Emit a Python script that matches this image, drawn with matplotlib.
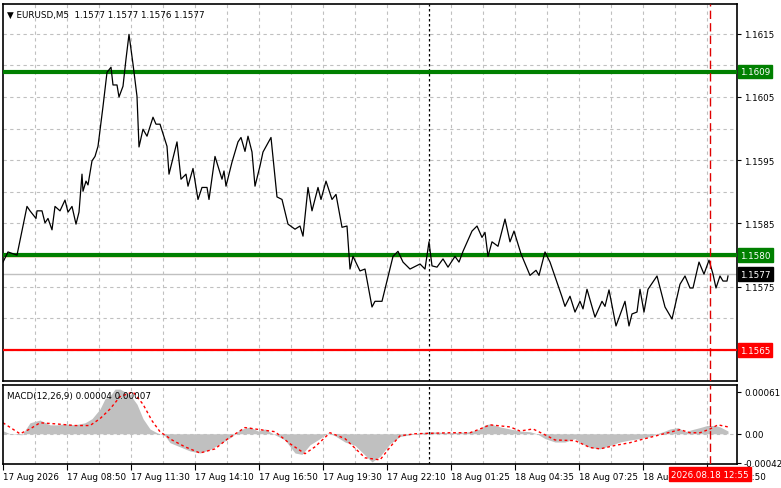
import matplotlib
matplotlib.use('Agg')
import matplotlib.pyplot as plt

# price line vertices: bar index (5-min bars) and close price
bars = [0, 2.5, 7, 12, 13.5, 16.5, 17, 19.5, 21, 22.5, 24.5, 26, 28.5, 31, 32.5, 34.5, 36.5, 38,
        39.5, 40, 41.5, 42.5, 44.5, 46, 47.5, 50, 52, 54, 55, 57, 58, 60, 61.5, 63, 65, 67, 68,
        70, 72, 75, 76.5, 78.5, 82, 83, 87, 89, 91.5, 92.5, 95, 97.5, 99.5, 102, 103, 106, 109.5,
        110.5, 111.5, 114.5, 117.5, 119, 121, 122.5, 124.5, 126, 128.5, 130, 134, 137, 139.5,
        142.5, 146, 148.5, 150, 152.5, 154.5, 157.5, 159, 161.5, 164.5, 166.5, 169.5, 172, 173.5,
        175, 178.5, 181, 184.5, 186, 189.5, 192, 195, 197.5, 200, 203.5, 208.5, 211, 213, 214.5,
        217, 220, 222.5, 226, 228, 230, 234.5, 237, 239.5, 241, 242.5, 244.5, 247.5, 251, 253.5,
        255.5, 259, 263.5, 266.5, 268, 271, 273.5, 279.5, 281, 283.5, 286, 288.5, 290, 292, 296,
        299.5, 301, 303, 306.5, 311, 313, 314.5, 317, 318.5, 320.5, 322.5, 327, 331, 334.5, 338.5,
        341, 343.5, 345, 348, 350.5, 353, 355, 356.5, 358.5, 360, 362, 362.5]
close = [1.15789, 1.15805, 1.15800, 1.15877, 1.15870, 1.15858, 1.15870, 1.15870, 1.15851,
         1.15858, 1.15840, 1.15877, 1.15870, 1.15887, 1.15868, 1.15877, 1.15849, 1.15868,
         1.15928, 1.15901, 1.15917, 1.15911, 1.15949, 1.15956, 1.15972, 1.16035, 1.16089,
         1.16097, 1.16069, 1.16069, 1.16050, 1.16067, 1.16110, 1.16149, 1.16102, 1.16051,
         1.15971, 1.15999, 1.15988, 1.16018, 1.16007, 1.16007, 1.15972, 1.15928, 1.15979,
         1.15920, 1.15928, 1.15909, 1.15937, 1.15888, 1.15907, 1.15907, 1.15888, 1.15956,
         1.15920, 1.15933, 1.15909, 1.15947, 1.15979, 1.15986, 1.15964, 1.15988, 1.15963,
         1.15909, 1.15941, 1.15963, 1.15986, 1.15892, 1.15888, 1.15849, 1.15841, 1.15846,
         1.15830, 1.15907, 1.15870, 1.15907, 1.15888, 1.15917, 1.15888, 1.15896, 1.15844,
         1.15846, 1.15778, 1.15798, 1.15775, 1.15778, 1.15718, 1.15727, 1.15727, 1.15759,
         1.15798, 1.15806, 1.15789, 1.15778, 1.15786, 1.15778, 1.15821, 1.15783, 1.15781,
         1.15794, 1.15781, 1.15798, 1.15789, 1.15806, 1.15838, 1.15846, 1.15828, 1.15836,
         1.15798, 1.15821, 1.15814, 1.15857, 1.15821, 1.15838, 1.15802, 1.15768, 1.15776,
         1.15768, 1.15805, 1.15789, 1.15734, 1.15719, 1.15735, 1.15710, 1.15727, 1.15715,
         1.15746, 1.15702, 1.15727, 1.15719, 1.15745, 1.15688, 1.15727, 1.15688, 1.15707,
         1.15710, 1.15746, 1.15710, 1.15746, 1.15767, 1.15718, 1.15699, 1.15754, 1.15767,
         1.15748, 1.15748, 1.15789, 1.15770, 1.15792, 1.15770, 1.15748, 1.15767, 1.15759,
         1.15759, 1.15767]

# MACD histogram and signal, in units of 1e-5
hist_bars = [0, 3.5, 9.5, 13.5, 18.5, 23.5, 27, 31, 36, 41, 44.5, 48.5, 51, 53.5, 56, 58.5, 63.5,
             67, 70, 73.5, 77, 81, 83.5, 88.5, 93.5, 98.5, 103.5, 109.5, 114.5, 118.5, 123.5, 127.5,
             131, 136, 141, 146, 149.5, 153.5, 158.5, 162.5, 166, 171, 176, 184.5, 188.5, 193.5,
             198.5, 203.5, 208.5, 213.5, 223.5, 233.5, 238.5, 241, 243.5, 248.5, 253.5, 258.5,
             263.5, 267, 271, 276, 281, 286, 289.5, 293.5, 298.5, 303.5, 308.5, 313.5, 318.5,
             323.5, 328.5, 331, 333.5, 337.5, 341, 344.5, 348.5, 352, 356, 358.5, 362.5]
hist_e5 = [4.4, 0, -1.5, 16, 20, 13, 13, 14.5, 13, 16, 22, 36, 51, 55, 65, 65, 57, 43, 22, 7, 1.5,
           -3, -13, -19, -25, -28, -23, -13, -4, 6, 10, 4, 7, -1.5, -9, -28, -30, -16, -7, 1.5,
           -3, -12, -17, -41, -33, -14.5, -4, -1.5, 1.5, 3, 1.5, 3, 7, 13, 14.5, 10, 7, 4, 3, 0,
           -7, -12, -12, -7, -14.5, -20, -22, -17, -12, -9, -7, -4, 1.5, 4, 7, 9, 3, 6, 9, 12, 12,
           10, 4]
sig_bars = [0, 8.5, 13.5, 18.5, 26, 36, 43.5, 48.5, 53.5, 58.5, 65, 70, 74.5, 78.5, 84.5, 91,
            98.5, 106, 112.5, 121, 128.5, 136, 143.5, 151, 156, 163.5, 171, 181, 188.5, 194.5,
            198.5, 206, 223.5, 233.5, 238.5, 243.5, 253.5, 258.5, 265, 271, 276, 286, 293.5,
            298.5, 306, 313.5, 318.5, 328.5, 334.5, 338.5, 343.5, 348.5, 353.5, 357.5, 362.5]
sig_e5 = [16, 0, 7, 16, 14.5, 12, 12, 22, 36, 54, 61, 43, 19, 3, -9, -19, -28, -22, -7, 9, 6, 3,
          -14.5, -29, -19, 1.5, -7, -35, -38, -16, -3, 0, 1.5, 1.5, 7, 13, 10, 4, 7, -1.5, -9,
          -10, -20, -22, -17, -13, -9, -1.5, 3, 6, 1.5, 1.5, 7, 13, 10]

tick_bars = list(range(0, 361, 32))
tick_labels = ['17 Aug 2026', '17 Aug 08:50', '17 Aug 11:30', '17 Aug 14:10', '17 Aug 16:50',
               '17 Aug 19:30', '17 Aug 22:10', '18 Aug 01:25', '18 Aug 04:35', '18 Aug 07:25',
               '18 Aug 10:15', '18 Aug 12:50']
price_ticks = [1.1575, 1.1585, 1.1595, 1.1605, 1.1615]
levels = {'1.1609': (1.1609, '#008000'), '1.1580': (1.1580, '#008000'), '1.1565': (1.1565, '#ff0000')}
last_price = 1.1577
cursor_bar = 353.5
cursor_label = '2026.08.18 12:55'
sep_bar = 213

FS = 6.3
plt.rcParams['font.family'] = 'DejaVu Sans'
fig = plt.figure(figsize=(7.81, 4.89), dpi=100)
W, H = 781, 489
ax = fig.add_axes([3 / W, 1 - 382 / H, 734 / W, 377 / H])
mx = fig.add_axes([3 / W, 1 - 465 / H, 734 / W, 79 / H])

for a in (ax, mx):
    a.set_xlim(0, 367)
    for s in a.spines.values():
        s.set_linewidth(1.2)
    for g in range(16, 367, 16):
        a.axvline(g, color='#c0c0c0', ls=(0, (3, 3)), lw=0.8, zorder=0)
    a.axvline(sep_bar, color='black', ls=(0, (2, 2)), lw=0.9)
    a.axvline(cursor_bar, color='#e00000', ls=(0, (6, 3)), lw=1.0, zorder=5)
    a.yaxis.tick_right()
    a.tick_params(axis='y', length=3, labelsize=FS, pad=2)

# main panel
ax.set_ylim(1.15601, 1.16197)
for y in [1.1560 + 0.0005 * k for k in range(1, 12)]:
    ax.axhline(y, color='#c0c0c0', ls=(0, (3, 3)), lw=0.8, zorder=0)
ax.axhline(last_price, color='#c0c0c0', lw=1.0, zorder=1)
ax.axhline(1.1580 - 0.00002, color='#ff6600', lw=1.0, zorder=2)
for txt, (v, c) in levels.items():
    ax.axhline(v, color=c, lw=3 if c == '#008000' else 1.6, zorder=3)
ax.plot(bars, close, color='black', lw=0.9, zorder=4)
ax.set_yticks(price_ticks)
ax.set_yticklabels([f'{p:.4f}' for p in price_ticks])
ax.set_xticks([])
for txt, (v, c) in list(levels.items()) + [('1.1577', (last_price, 'black'))]:
    ax.text(1.004, v, txt, transform=ax.get_yaxis_transform(), color='white', fontsize=FS,
            va='center', ha='left', bbox=dict(boxstyle='square,pad=0.25', fc=c, ec=c))
ax.text(0.006, 0.985, '\u25bc EURUSD,M5  1.1577 1.1577 1.1576 1.1577', transform=ax.transAxes,
        fontsize=FS, va='top', ha='left')

# MACD panel
hist = [h * 1e-5 for h in hist_e5]
sig = [s * 1e-5 for s in sig_e5]
mx.set_ylim(-0.00044, 0.00071)
mx.axhline(0, color='#c0c0c0', ls=(0, (3, 3)), lw=0.8, zorder=0)
mx.fill_between(hist_bars, 0, hist, color='#c0c0c0', lw=0, zorder=1)
mx.plot(sig_bars, sig, color='#ff0000', ls=(0, (2, 2)), lw=1.0, zorder=2)
mx.set_yticks([-0.00042, 0, 0.00061])
mx.set_yticklabels(['-0.00042', '0.00', '0.00061'])
mx.text(0.006, 0.93, 'MACD(12,26,9) 0.00004 0.00007', transform=mx.transAxes, fontsize=FS,
        va='top', ha='left')
mx.set_xticks(tick_bars)
mx.set_xticklabels(tick_labels, fontsize=FS, ha='left')
mx.tick_params(axis='x', length=4, pad=2)
mx.text(cursor_bar, -0.07, cursor_label, transform=mx.get_xaxis_transform(), color='white',
        fontsize=FS, ha='center', va='top', zorder=10,
        bbox=dict(boxstyle='square,pad=0.25', fc='#ff0000', ec='#ff0000'))

fig.savefig('out.png', dpi=100)
